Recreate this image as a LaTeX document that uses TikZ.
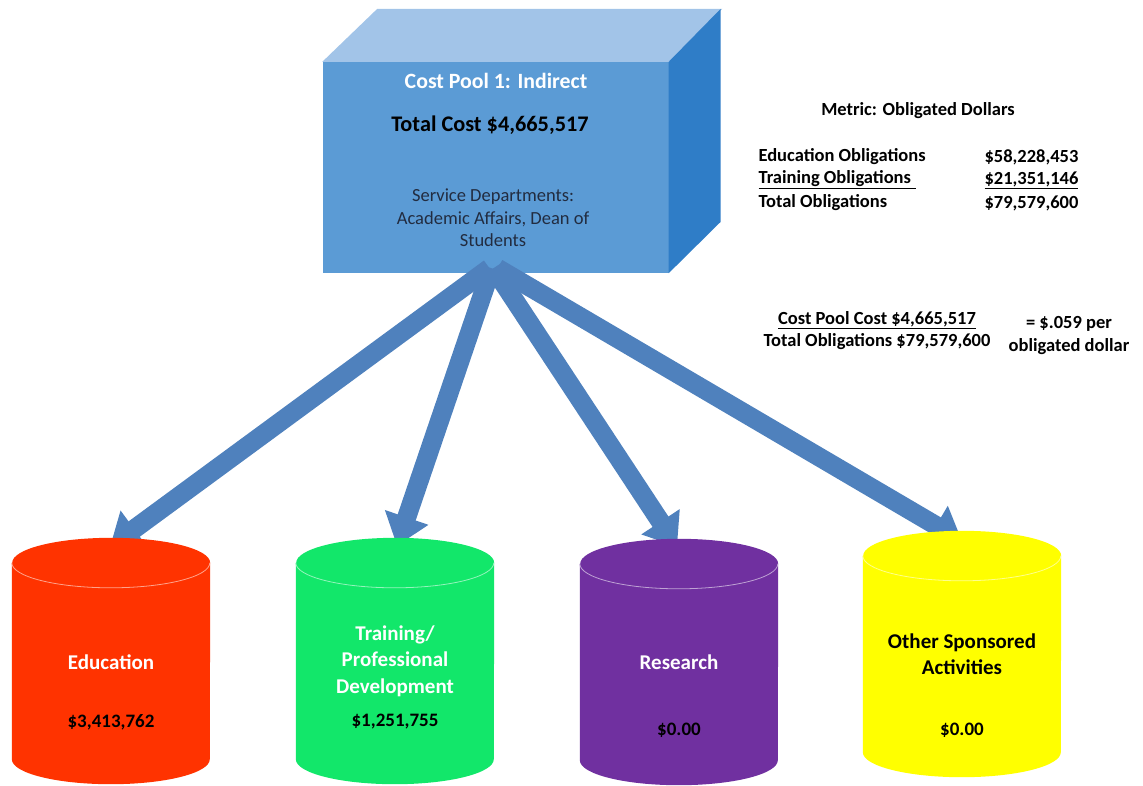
\documentclass[tikz,border=0pt]{standalone}
\usepackage{fontspec}
\setmainfont{Carlito}
\usetikzlibrary{arrows.meta,positioning}

\definecolor{frontblue}{HTML}{5B9BD5}
\definecolor{topblue}{HTML}{A2C4E8}
\definecolor{sideblue}{HTML}{2F7DC7}
\definecolor{arrowblue}{HTML}{4F81BD}
\definecolor{deptgray}{HTML}{222C40}
\definecolor{edured}{HTML}{FF3300}
\definecolor{traingreen}{HTML}{12E76A}
\definecolor{respurple}{HTML}{7030A0}
\definecolor{otheryellow}{HTML}{FFFF00}

\begin{document}
\begin{tikzpicture}[x=1pt,y=-1pt,
    drum/.style={minimum width=198pt,minimum height=246pt,inner sep=0pt},
    flow/.style={line width=19pt,arrowblue,-{Triangle[width=44pt,length=30pt]}},
    lbl/.style={font=\bfseries\fontsize{21}{26.5}\selectfont,align=center},
    amt/.style={font=\bfseries\fontsize{19}{23}\selectfont},
    info/.style={font=\bfseries\fontsize{18.5}{23}\selectfont}]

  \useasboundingbox (0,0) rectangle (1143,785);

  % cost pool box
  \node[fill=frontblue,minimum width=346pt,minimum height=211pt,inner sep=0pt] (pool) at (495.5,167.5) {};
  \fill[topblue] (pool.north west) -- ++(55,-53) -- ++(345,0) -- (pool.north east) -- cycle;
  \fill[sideblue] (pool.north east) -- ++(52,-53) -- ++(0,213) -- (pool.south east) -- cycle;

  \node[font=\bfseries\fontsize{21.8}{25}\selectfont,text=white] (title) at (496,81) {Cost Pool 1: Indirect};
  \node[font=\bfseries\fontsize{22.3}{25}\selectfont] (total) at (490,125) {Total Cost \$4,665,517};
  \node[align=center,text=deptgray,font=\fontsize{18.5}{22.5}\selectfont] (dept) at (493,218)
    {Service Departments:\\Academic Affairs, Dean of\\Students};

  % metric
  \node[info] (metric) at (918,111) {Metric: Obligated Dollars};
  \node[info,anchor=west] (eduob) at (755,157) {Education Obligations};
  \node[info,anchor=west] (eduamt) at (981,157) {\$58,228,453};
  \node[info,anchor=west] (trainob) at (755,180) {\underline{Training Obligations\hspace{5pt}}};
  \node[info,anchor=west] (trainamt) at (981,180) {\underline{\$21,351,146}};
  \node[info,anchor=west] (totob) at (755,203) {Total Obligations};
  \node[info,anchor=west] (totamt) at (981,203) {\$79,579,600};

  \node[info] (poolcost) at (877,320) {\underline{Cost Pool Cost \$4,665,517}};
  \node[info] (oblig) at (877,342) {Total Obligations \$79,579,600};
  \node[info,align=center] (rate) at (1069,335) {= \$.059 per\\obligated dollar};

  % drums
  \node[drum] (edu) at (111,661) {};
  \node[drum] (train) at (395,661) {};
  \node[drum] (res) at (679,662) {};
  \node[drum] (other) at (962,654) {};

  % arrows
  \draw[flow] ([shift={(-6,-5)}]pool.south) -- ([shift={(-1,9)}]edu.north);
  \draw[flow] ([shift={(-4,-5)}]pool.south) -- ([shift={(2,8)}]train.north);
  \draw[flow] ([shift={(-2,-5)}]pool.south) -- ([shift={(-2,8)}]res.north);
  \draw[flow] ([shift={(2,-5)}]pool.south) -- ([shift={(0,10)}]other.north);

  \foreach \n/\c in {edu/edured,train/traingreen,res/respurple,other/otheryellow}{
    \fill[\c] ([yshift=-25pt]\n.north west) -- ([yshift=25pt]\n.south west)
      arc[start angle=180,end angle=360,x radius=99pt,y radius=25pt]
      -- ([yshift=-25pt]\n.north east)
      arc[start angle=0,end angle=180,x radius=99pt,y radius=25pt] -- cycle;
    \draw[white!55!\c,line width=0.8pt] ([yshift=-25pt]\n.north west)
      arc[start angle=180,end angle=360,x radius=99pt,y radius=25pt];
  }

  \node[lbl,text=white] at (111,662) {Education};
  \node[amt] at (111,722) {\$3,413,762};
  \node[lbl,text=white] at (395,661) {Training/\\Professional\\Development};
  \node[amt] at (395,722) {\$1,251,755};
  \node[lbl,text=white] at (679,662) {Research};
  \node[amt] at (679,730) {\$0.00};
  \node[lbl] at (962,654) {Other Sponsored\\Activities};
  \node[amt] at (962,730) {\$0.00};
\end{tikzpicture}
\end{document}
